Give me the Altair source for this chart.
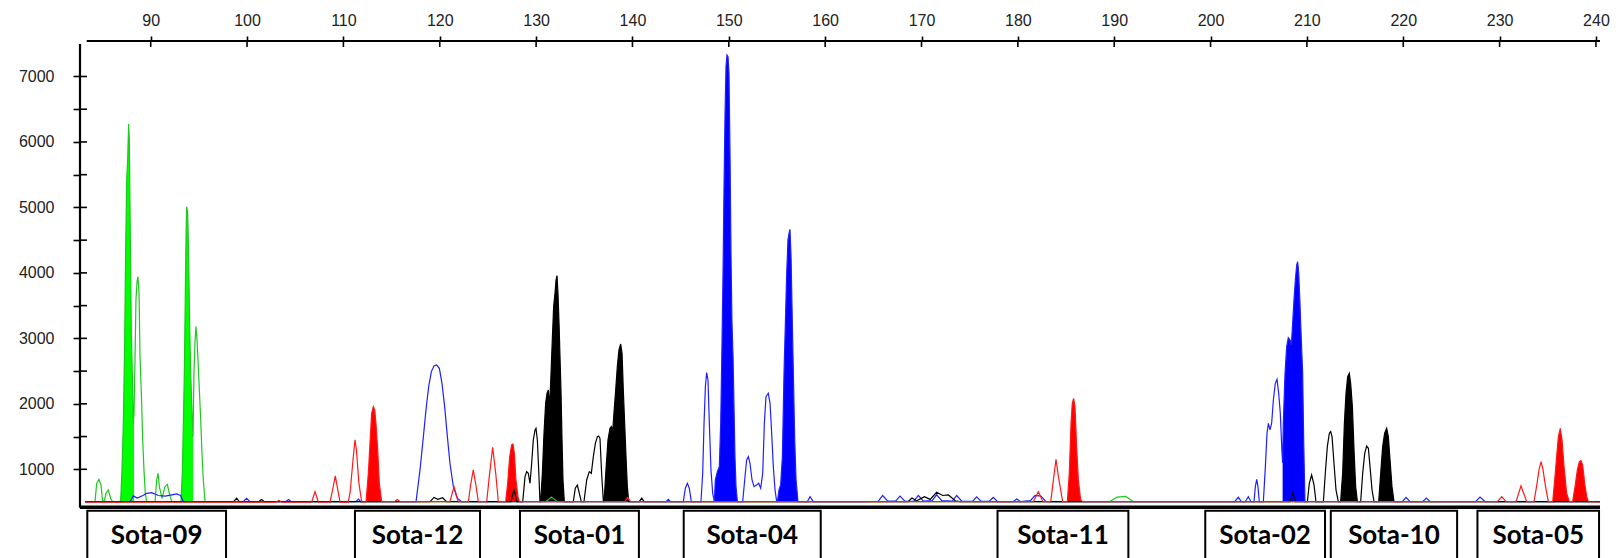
import altair as alt
import pandas as pd

# ---------------- data ----------------
X_TICKS = [90, 100, 110, 120, 130, 140, 150, 160, 170, 180, 190, 200, 210, 220, 230, 240]
Y_TICKS = [1000, 1500, 2000, 2500, 3000, 3500, 4000, 4500, 5000, 5500, 6000, 6500, 7000]

LOCUS_NAMES = ["Sota-09", "Sota-12", "Sota-01", "Sota-04", "Sota-11", "Sota-02", "Sota-10", "Sota-05"]
LOCUS_START = [83.42, 111.2, 128.33, 145.32, 177.89, 199.45, 212.48, 227.70]
LOCUS_END = [97.82, 124.18, 140.67, 159.54, 191.47, 211.88, 225.59, 240.32]

GREEN_X = [83.2, 84.22, 84.39, 84.63, 84.84, 85.01, 85.2, 85.36, 85.6, 85.84, 86.05,
           86.88, 87.02, 87.16, 87.30, 87.40, 87.51, 87.61, 87.71, 87.78, 87.89, 87.99, 88.09, 88.20,
           88.27, 88.37, 88.47, 88.58, 88.68, 88.79, 88.89, 89.03, 89.17, 89.30, 89.44, 89.58,
           90.45, 90.62, 90.76, 90.90, 91.17, 91.48, 91.73, 91.93, 92.18,
           93.14, 93.28, 93.39, 93.49, 93.59, 93.66, 93.73, 93.84, 93.94, 94.04, 94.15, 94.29, 94.39,
           94.49, 94.60, 94.70, 94.81, 94.91, 95.05, 95.19, 95.32, 95.46, 95.64,
           131.0, 131.6, 132.2, 189.5, 190.3, 191.2, 192.0, 240.4]
GREEN_Y = [505, 505, 780, 847, 760, 510, 520, 633, 684, 557, 505,
           505, 990, 1702, 2975, 4350, 5419, 5724, 6274, 6030, 4502, 3077, 2466, 1702,
           1855, 2670, 3586, 3866, 3942, 3688, 2720, 2161, 1448, 990, 633, 505,
           505, 837, 939, 735, 557, 735, 770, 633, 505,
           505, 939, 1702, 2466, 3637, 4502, 5011, 4910, 4248, 3230, 2466, 1855, 1499,
           2466, 2950, 3179, 2975, 2670, 2212, 1753, 1244, 837, 505,
           505, 575, 505, 505, 575, 585, 505, 505]
GREEN_FILLED = [(86.88, 88.27), (93.14, 94.39)]

RED_X = [83.2, 103.0, 103.3, 103.6, 106.71, 107.05, 107.4, 108.61, 108.9, 109.16, 109.4, 109.65,
         110.5, 110.7, 111.0, 111.2, 111.35, 111.6, 111.9,
         112.35, 112.59, 112.76, 112.93, 113.11, 113.25, 113.38, 113.56, 113.73, 113.97,
         115.3, 115.6, 115.9, 121.06, 121.48, 121.93, 122.97, 123.2, 123.48, 123.75, 124.0,
         124.87, 125.15, 125.49, 125.8, 126.08,
         126.84, 127.05, 127.26, 127.46, 127.6, 127.74, 127.91, 128.12, 128.26,
         139.2, 139.5, 139.8, 181.6, 182.13, 182.6, 183.41, 183.7, 183.96, 184.2, 184.65,
         185.14, 185.34, 185.52, 185.65, 185.79, 185.93, 186.10, 186.28, 186.52, 186.73,
         229.77, 230.22, 230.67, 231.7, 232.22, 232.81,
         233.57, 233.85, 234.1, 234.3, 234.5, 234.75, 235.06,
         235.51, 235.72, 235.92, 236.10, 236.30, 236.48, 236.69, 236.96, 237.24,
         237.58, 237.83, 238.07, 238.28, 238.45, 238.62, 238.83, 239.04, 239.21, 240.4]
RED_Y = [500, 500, 525, 500, 500, 659, 500, 500, 700, 898, 700, 500,
         500, 650, 1150, 1448, 1300, 800, 500,
         505, 939, 1397, 1855, 1957, 1906, 1702, 1295, 786, 505,
         505, 540, 505, 505, 735, 505, 505, 760, 990, 760, 505,
         505, 900, 1336, 950, 505,
         505, 786, 1193, 1372, 1387, 1244, 837, 582, 505,
         505, 570, 505, 505, 659, 505, 505, 850, 1153, 900, 505,
         505, 939, 1702, 2008, 2084, 1957, 1346, 837, 531, 505,
         505, 582, 505, 505, 745, 505,
         505, 750, 1000, 1117, 1000, 750, 505,
         505, 837, 1193, 1499, 1626, 1448, 1040, 633, 505,
         505, 735, 990, 1117, 1132, 1066, 786, 582, 505, 500]
RED_FILLED = [(112.35, 113.97), (126.84, 128.26), (185.14, 186.73), (235.51, 237.24), (237.58, 239.21)]

BLUE_X = [83.2, 87.85, 88.2, 88.6, 89.2, 89.58, 90.1, 90.8, 91.5, 92.2, 92.7, 93.1, 93.39,
          99.6, 99.96, 100.3, 104.0, 104.3, 104.6, 111.3, 111.55, 111.8,
          117.54, 117.95, 118.30, 118.57, 118.85, 119.13, 119.40, 119.68, 119.96, 120.23, 120.51,
          120.79, 121.06, 121.41, 121.82, 122.27,
          143.5, 143.72, 143.95, 145.28, 145.49, 145.70, 145.90, 146.11,
          147.11, 147.29, 147.43, 147.57, 147.70, 147.84, 147.98, 148.15, 148.33,
          148.50, 148.60, 148.81, 149.02, 149.16, 149.30, 149.40, 149.50, 149.61, 149.71, 149.81,
          149.92, 150.02, 150.13, 150.23, 150.33, 150.44, 150.54, 150.64, 150.75, 150.89,
          151.44, 151.65, 151.85, 152.03, 152.20, 152.41, 152.62, 152.89, 153.10, 153.31, 153.52,
          153.69, 153.86, 154.10, 154.28, 154.45, 154.62, 154.80, 154.97,
          155.04, 155.21, 155.38, 155.56, 155.73, 155.87, 156.01, 156.14, 156.25, 156.35, 156.46,
          156.56, 156.70, 156.84, 156.98, 157.18, 158.15, 158.43, 158.77,
          163.5, 165.5, 165.97, 166.5, 167.3, 167.77, 168.3, 169.2, 169.67, 170.2, 171.1, 171.57,
          172.1, 173.2, 173.65, 174.2, 175.3, 175.72, 176.2, 177.0, 177.45, 177.9, 179.5, 179.88,
          180.3, 181.3, 181.78, 182.4, 182.9, 183.3,
          202.5, 202.88, 203.2, 203.6, 203.92, 204.2, 204.51, 204.65, 204.79, 204.92, 205.06,
          205.48, 205.69, 205.86, 206.00, 206.17, 206.34, 206.52, 206.72, 206.90, 207.07, 207.24,
          207.40, 207.48, 207.55, 207.73, 207.90, 208.07, 208.25, 208.39, 208.52, 208.66, 208.80,
          208.94, 209.04, 209.15, 209.28, 209.42, 209.56, 209.67, 209.80,
          219.9, 220.29, 220.7, 222.0, 222.4, 222.8, 227.5, 227.97, 228.5, 240.4]
BLUE_Y = [505, 505, 593, 560, 600, 633, 643, 600, 590, 610, 623, 600, 505,
          505, 557, 505, 505, 540, 505, 505, 545, 505,
          505, 990, 1499, 1906, 2263, 2492, 2578, 2593, 2543, 2313, 1957,
          1499, 1092, 735, 557, 505,
          505, 542, 505, 505, 710, 786, 710, 505,
          505, 939, 1702, 2263, 2476, 2364, 1702, 990, 633,
          505, 837, 964, 1041, 1702, 2975, 3993, 5266, 6437, 7150, 7328,
          7302, 7048, 5775, 4248, 3230, 2720, 1957, 1193, 735, 505,
          505, 837, 1143, 1193, 1092, 837, 735, 761, 786, 710, 939,
          1702, 2109, 2161, 2008, 1550, 1041, 684, 505,
          505, 684, 761, 1193, 2466, 3230, 3993, 4502, 4604, 4665, 4248,
          3484, 2466, 1448, 837, 505, 505, 582, 505,
          505, 510, 600, 515, 515, 590, 510, 515, 600, 515, 520, 610,
          520, 515, 600, 510, 510, 580, 510, 510, 570, 505, 505, 545,
          505, 520, 600, 590, 510, 505,
          505, 572, 505, 505, 582, 505, 505, 735, 847, 735, 505,
          505, 1041, 1550, 1702, 1601, 1702, 2059, 2313, 2374, 2161, 1855,
          1300, 1100, 1702, 2466, 2873, 3011, 2975, 2899, 3230, 3586, 3891,
          4120, 4171, 3993, 3535, 2975, 2466, 1397, 505,
          505, 570, 505, 505, 560, 505, 505, 575, 505, 505]
BLUE_FILLED = [(148.50, 150.89), (155.04, 157.18), (207.48, 209.80)]

BLACK_X = [83.2, 98.6, 98.92, 99.2, 101.2, 101.5, 101.8, 119.0, 119.4, 119.8, 120.3, 120.7,
           127.4, 127.7, 128.0,
           128.61, 128.85, 129.02, 129.19, 129.37, 129.54, 129.71, 129.89, 129.99, 130.13, 130.27, 130.40,
           130.47, 130.65, 130.82, 130.99, 131.13, 131.27, 131.41, 131.55, 131.68, 131.82, 131.96,
           132.07, 132.17, 132.27, 132.38, 132.48, 132.58, 132.69, 132.79, 132.93,
           133.86, 134.07, 134.28, 134.49, 134.69,
           134.97, 135.25, 135.52, 135.73, 135.94, 136.15, 136.36, 136.49, 136.63, 136.80, 136.98,
           137.05, 137.25, 137.46, 137.67, 137.81, 137.95, 138.08, 138.26, 138.43, 138.60, 138.78,
           138.92, 139.05, 139.19, 139.33, 139.47, 139.61,
           140.7, 140.96, 141.2, 168.6, 169.0, 169.5, 170.3, 170.9, 171.57, 172.2, 172.79, 173.5, 174.0,
           208.25, 208.52, 208.8, 210.05, 210.25, 210.49, 210.74, 210.94,
           211.71, 211.91, 212.12, 212.33, 212.47, 212.61, 212.81, 213.02, 213.26,
           213.50, 213.71, 213.89, 214.06, 214.23, 214.40, 214.54, 214.72, 214.89, 215.06, 215.24,
           215.58, 215.79, 216.00, 216.20, 216.38, 216.55, 216.76, 216.97,
           217.45, 217.66, 217.86, 218.07, 218.28, 218.45, 218.63, 218.83, 219.04, 240.4]
BLACK_Y = [505, 505, 557, 505, 505, 540, 505, 505, 570, 540, 565, 505,
           505, 700, 505,
           505, 888, 964, 939, 786, 1092, 1448, 1601, 1626, 1448, 990, 505,
           505, 939, 1550, 2008, 2161, 2212, 1957, 2466, 2975, 3484, 3688,
           3891, 3958, 3688, 3230, 2720, 2212, 1448, 837, 505,
           505, 710, 760, 633, 505,
           505, 837, 964, 939, 1193, 1397, 1499, 1509, 1473, 939, 505,
           505, 990, 1448, 1626, 1652, 1575, 1855, 2212, 2568, 2823, 2914,
           2772, 2212, 1702, 1193, 735, 505,
           505, 560, 505, 505, 560, 520, 580, 540, 648, 600, 608, 520, 505,
           505, 633, 505, 505, 786, 913, 761, 505,
           505, 939, 1346, 1550, 1575, 1499, 1092, 684, 505,
           505, 939, 1702, 2161, 2415, 2466, 2313, 1957, 1295, 735, 505,
           505, 939, 1244, 1356, 1321, 1041, 684, 505,
           505, 939, 1346, 1550, 1626, 1499, 1143, 735, 505, 505]
BLACK_FILLED = [(130.47, 132.93), (137.05, 139.61), (213.50, 215.24), (217.45, 219.04)]

BASELINE = 505

# ---------------- build tables ----------------
DYES = [
    ("green", GREEN_X, GREEN_Y, GREEN_FILLED, "#00ff00", "#1ec81e"),
    ("blue", BLUE_X, BLUE_Y, BLUE_FILLED, "#0000ff", "#2020ff"),
    ("black", BLACK_X, BLACK_Y, BLACK_FILLED, "#000000", "#000000"),
    ("red", RED_X, RED_Y, RED_FILLED, "#ff0000", "#ff1a1a"),
]

xs = alt.Scale(domain=[82.662, 240.42], nice=False, zero=False)
ys = alt.Scale(domain=[-355, 7542], nice=False, zero=False)

AX_X = alt.Axis(
    orient="top", values=X_TICKS, domain=False, grid=False, title=None,
    ticks=True, tickSize=5, tickWidth=1.6, tickColor="black",
    labelFont="Liberation Sans", labelFontSize=16, labelColor="#222222",
    labelPadding=8, labelFlush=False, labelOverlap=False)
AX_Y = alt.Axis(
    orient="left", values=Y_TICKS, domain=False, grid=False, title=None,
    ticks=True, tickSize=7, tickWidth=1.6, tickColor="black",
    labelFont="Liberation Sans", labelFontSize=16, labelColor="#222222",
    labelPadding=19, labelFlush=False, labelOverlap=False,
    labelExpr="datum.value % 1000 == 0 ? datum.label : ''", format="d")


def X(field=None, **kw):
    if field is None:
        return alt.X(scale=xs, axis=AX_X, **kw)
    return alt.X(field, scale=xs, axis=AX_X, **kw)


def Y(field=None, **kw):
    if field is None:
        return alt.Y(scale=ys, axis=AX_Y, **kw)
    return alt.Y(field, scale=ys, axis=AX_Y, **kw)


area_layers = []
line_layers = []
for name, xv, yv, filled, fill_col, line_col in DYES:
    trace = pd.DataFrame({"size": xv, "rfu": yv})
    for i, (a, b) in enumerate(filled):
        seg = trace[(trace["size"] >= a - 1e-9) & (trace["size"] <= b + 1e-9)].copy()
        seg["base"] = BASELINE
        area_layers.append(
            alt.Chart(seg).mark_area(color=fill_col, fillOpacity=1, opacity=1).encode(
                x=X("size:Q"),
                y=Y("rfu:Q"),
                y2="base:Q",
            )
        )
    line_layers.append(
        alt.Chart(trace).mark_line(color=line_col, strokeWidth=1.2).encode(
            x=X("size:Q"),
            y=Y("rfu:Q"),
        )
    )

loci = pd.DataFrame({"name": LOCUS_NAMES, "start": LOCUS_START, "end": LOCUS_END,
                     "top": [368] * len(LOCUS_NAMES), "bottom": [-480] * len(LOCUS_NAMES),
                     "ty": [-25] * len(LOCUS_NAMES)})

boxes = alt.Chart(loci).mark_rect(fill="white", stroke="black", strokeWidth=2).encode(
    x=X("start:Q"), x2="end:Q",
    y=Y("top:Q"), y2="bottom:Q",
)
box_text = alt.Chart(loci).transform_calculate(mid="(datum.start + datum.end) / 2").mark_text(
    font="Lato", fontWeight="bold", fontSize=26, color="black", align="center", baseline="middle"
).encode(
    x=X("mid:Q"),
    y=Y("ty:Q"),
    text="name:N",
)

frame = pd.DataFrame({"x0": [82.662], "x1": [240.42], "xt": [83.36],
                      "yb": [420], "ytop": [7496], "ybot": [412]})

bottom_line = alt.Chart(frame).mark_rule(color="black", strokeWidth=3.5).encode(
    x=X("x0:Q"), x2="x1:Q", y=Y("yb:Q"),
)
top_line = alt.Chart(frame).mark_rule(color="black", strokeWidth=2).encode(
    x=X("xt:Q"), x2="x1:Q", y=alt.value(0),
)
left_line = alt.Chart(frame).mark_rule(color="black", strokeWidth=2.2).encode(
    x=alt.value(0), y=Y("ytop:Q"), y2="ybot:Q",
)

xt = pd.DataFrame({"t": X_TICKS})
yt = pd.DataFrame({"t": Y_TICKS})

x_ticks = alt.Chart(xt).mark_rule(color="black", strokeWidth=1.6).encode(
    x=X("t:Q"), y=alt.value(0), y2=alt.value(6),
)
y_ticks = alt.Chart(yt).mark_rule(color="black", strokeWidth=1.6).encode(
    y=Y("t:Q"), x=alt.value(0), x2=alt.value(7),
)

chart = alt.layer(
    x_ticks, y_ticks, boxes, box_text, *area_layers, *line_layers, bottom_line, top_line, left_line
).properties(
    width=1520, height=517,
    autosize=alt.AutoSizeParams(type="none"),
    padding={"left": 80, "top": 41, "right": 19, "bottom": 0},
    background="white",
).configure_view(stroke=None)

chart.save("out.html", embed_options={"renderer": "svg", "actions": False})
